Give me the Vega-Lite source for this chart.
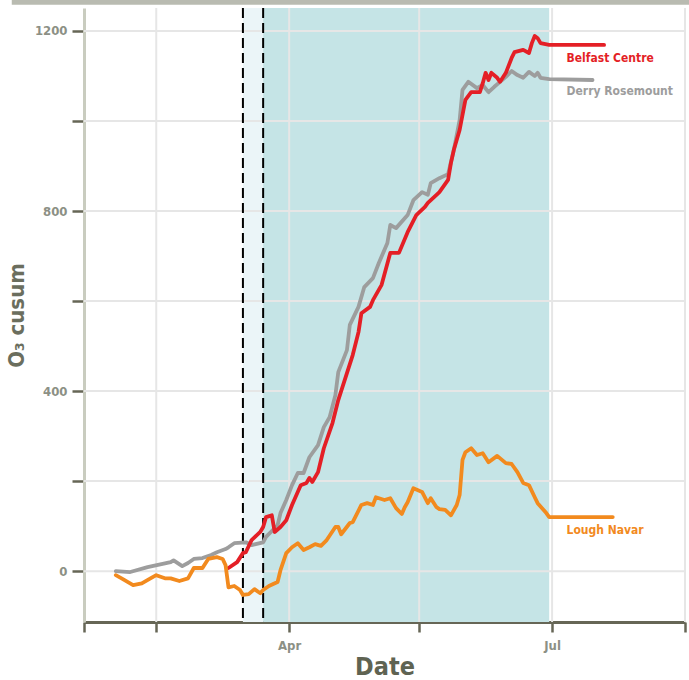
{
  "$schema": "https://vega.github.io/schema/vega-lite/v6.json",
  "autosize": "none",
  "width": 601,
  "height": 614,
  "padding": {"left": 84, "top": 8, "right": 4, "bottom": 58},
  "background": "white",
  "config": {
    "view": {"stroke": null},
    "font": "DejaVu Sans Condensed",
    "axis": {"labelFont": "DejaVu Sans Condensed", "titleFont": "DejaVu Sans Condensed"},
    "text": {"font": "DejaVu Sans Condensed"}
  },
  "datasets": {
    "series": [
      {"site": "Derry Rosemount", "date": "2020-02-01", "cusum": 0},
      {"site": "Derry Rosemount", "date": "2020-02-06", "cusum": -2},
      {"site": "Derry Rosemount", "date": "2020-02-12", "cusum": 9},
      {"site": "Derry Rosemount", "date": "2020-02-20", "cusum": 20},
      {"site": "Derry Rosemount", "date": "2020-02-21", "cusum": 24},
      {"site": "Derry Rosemount", "date": "2020-02-24", "cusum": 11},
      {"site": "Derry Rosemount", "date": "2020-02-26", "cusum": 18},
      {"site": "Derry Rosemount", "date": "2020-02-28", "cusum": 27},
      {"site": "Derry Rosemount", "date": "2020-03-02", "cusum": 29},
      {"site": "Derry Rosemount", "date": "2020-03-05", "cusum": 36},
      {"site": "Derry Rosemount", "date": "2020-03-07", "cusum": 42},
      {"site": "Derry Rosemount", "date": "2020-03-10", "cusum": 49},
      {"site": "Derry Rosemount", "date": "2020-03-11", "cusum": 53},
      {"site": "Derry Rosemount", "date": "2020-03-13", "cusum": 62},
      {"site": "Derry Rosemount", "date": "2020-03-17", "cusum": 64},
      {"site": "Derry Rosemount", "date": "2020-03-19", "cusum": 58},
      {"site": "Derry Rosemount", "date": "2020-03-23", "cusum": 64},
      {"site": "Derry Rosemount", "date": "2020-03-24", "cusum": 76},
      {"site": "Derry Rosemount", "date": "2020-03-28", "cusum": 102},
      {"site": "Derry Rosemount", "date": "2020-03-29", "cusum": 129},
      {"site": "Derry Rosemount", "date": "2020-03-31", "cusum": 158},
      {"site": "Derry Rosemount", "date": "2020-04-02", "cusum": 191},
      {"site": "Derry Rosemount", "date": "2020-04-04", "cusum": 218},
      {"site": "Derry Rosemount", "date": "2020-04-06", "cusum": 218},
      {"site": "Derry Rosemount", "date": "2020-04-08", "cusum": 253},
      {"site": "Derry Rosemount", "date": "2020-04-11", "cusum": 280},
      {"site": "Derry Rosemount", "date": "2020-04-13", "cusum": 320},
      {"site": "Derry Rosemount", "date": "2020-04-15", "cusum": 342},
      {"site": "Derry Rosemount", "date": "2020-04-17", "cusum": 391},
      {"site": "Derry Rosemount", "date": "2020-04-18", "cusum": 442},
      {"site": "Derry Rosemount", "date": "2020-04-21", "cusum": 491},
      {"site": "Derry Rosemount", "date": "2020-04-22", "cusum": 547},
      {"site": "Derry Rosemount", "date": "2020-04-25", "cusum": 587},
      {"site": "Derry Rosemount", "date": "2020-04-27", "cusum": 631},
      {"site": "Derry Rosemount", "date": "2020-04-30", "cusum": 651},
      {"site": "Derry Rosemount", "date": "2020-05-02", "cusum": 684},
      {"site": "Derry Rosemount", "date": "2020-05-05", "cusum": 729},
      {"site": "Derry Rosemount", "date": "2020-05-06", "cusum": 769},
      {"site": "Derry Rosemount", "date": "2020-05-08", "cusum": 762},
      {"site": "Derry Rosemount", "date": "2020-05-12", "cusum": 791},
      {"site": "Derry Rosemount", "date": "2020-05-14", "cusum": 824},
      {"site": "Derry Rosemount", "date": "2020-05-17", "cusum": 842},
      {"site": "Derry Rosemount", "date": "2020-05-19", "cusum": 836},
      {"site": "Derry Rosemount", "date": "2020-05-20", "cusum": 862},
      {"site": "Derry Rosemount", "date": "2020-05-23", "cusum": 873},
      {"site": "Derry Rosemount", "date": "2020-05-26", "cusum": 882},
      {"site": "Derry Rosemount", "date": "2020-05-28", "cusum": 936},
      {"site": "Derry Rosemount", "date": "2020-05-30", "cusum": 1002},
      {"site": "Derry Rosemount", "date": "2020-05-31", "cusum": 1069},
      {"site": "Derry Rosemount", "date": "2020-06-02", "cusum": 1087},
      {"site": "Derry Rosemount", "date": "2020-06-05", "cusum": 1073},
      {"site": "Derry Rosemount", "date": "2020-06-07", "cusum": 1080},
      {"site": "Derry Rosemount", "date": "2020-06-09", "cusum": 1064},
      {"site": "Derry Rosemount", "date": "2020-06-11", "cusum": 1076},
      {"site": "Derry Rosemount", "date": "2020-06-13", "cusum": 1087},
      {"site": "Derry Rosemount", "date": "2020-06-15", "cusum": 1098},
      {"site": "Derry Rosemount", "date": "2020-06-17", "cusum": 1111},
      {"site": "Derry Rosemount", "date": "2020-06-19", "cusum": 1102},
      {"site": "Derry Rosemount", "date": "2020-06-21", "cusum": 1096},
      {"site": "Derry Rosemount", "date": "2020-06-23", "cusum": 1109},
      {"site": "Derry Rosemount", "date": "2020-06-25", "cusum": 1100},
      {"site": "Derry Rosemount", "date": "2020-06-26", "cusum": 1107},
      {"site": "Derry Rosemount", "date": "2020-06-27", "cusum": 1096},
      {"site": "Derry Rosemount", "date": "2020-06-30", "cusum": 1093},
      {"site": "Derry Rosemount", "date": "2020-07-15", "cusum": 1091},
      {"site": "Belfast Centre", "date": "2020-03-11", "cusum": 7},
      {"site": "Belfast Centre", "date": "2020-03-14", "cusum": 20},
      {"site": "Belfast Centre", "date": "2020-03-16", "cusum": 40},
      {"site": "Belfast Centre", "date": "2020-03-17", "cusum": 42},
      {"site": "Belfast Centre", "date": "2020-03-19", "cusum": 69},
      {"site": "Belfast Centre", "date": "2020-03-22", "cusum": 87},
      {"site": "Belfast Centre", "date": "2020-03-23", "cusum": 98},
      {"site": "Belfast Centre", "date": "2020-03-24", "cusum": 120},
      {"site": "Belfast Centre", "date": "2020-03-26", "cusum": 124},
      {"site": "Belfast Centre", "date": "2020-03-27", "cusum": 87},
      {"site": "Belfast Centre", "date": "2020-03-29", "cusum": 98},
      {"site": "Belfast Centre", "date": "2020-03-31", "cusum": 113},
      {"site": "Belfast Centre", "date": "2020-04-02", "cusum": 147},
      {"site": "Belfast Centre", "date": "2020-04-05", "cusum": 191},
      {"site": "Belfast Centre", "date": "2020-04-07", "cusum": 196},
      {"site": "Belfast Centre", "date": "2020-04-08", "cusum": 207},
      {"site": "Belfast Centre", "date": "2020-04-09", "cusum": 198},
      {"site": "Belfast Centre", "date": "2020-04-11", "cusum": 220},
      {"site": "Belfast Centre", "date": "2020-04-13", "cusum": 273},
      {"site": "Belfast Centre", "date": "2020-04-16", "cusum": 329},
      {"site": "Belfast Centre", "date": "2020-04-18", "cusum": 380},
      {"site": "Belfast Centre", "date": "2020-04-21", "cusum": 440},
      {"site": "Belfast Centre", "date": "2020-04-23", "cusum": 480},
      {"site": "Belfast Centre", "date": "2020-04-25", "cusum": 531},
      {"site": "Belfast Centre", "date": "2020-04-26", "cusum": 573},
      {"site": "Belfast Centre", "date": "2020-04-29", "cusum": 587},
      {"site": "Belfast Centre", "date": "2020-04-30", "cusum": 602},
      {"site": "Belfast Centre", "date": "2020-05-03", "cusum": 636},
      {"site": "Belfast Centre", "date": "2020-05-06", "cusum": 707},
      {"site": "Belfast Centre", "date": "2020-05-09", "cusum": 707},
      {"site": "Belfast Centre", "date": "2020-05-12", "cusum": 753},
      {"site": "Belfast Centre", "date": "2020-05-15", "cusum": 791},
      {"site": "Belfast Centre", "date": "2020-05-18", "cusum": 809},
      {"site": "Belfast Centre", "date": "2020-05-19", "cusum": 818},
      {"site": "Belfast Centre", "date": "2020-05-22", "cusum": 836},
      {"site": "Belfast Centre", "date": "2020-05-23", "cusum": 842},
      {"site": "Belfast Centre", "date": "2020-05-26", "cusum": 869},
      {"site": "Belfast Centre", "date": "2020-05-27", "cusum": 907},
      {"site": "Belfast Centre", "date": "2020-05-28", "cusum": 936},
      {"site": "Belfast Centre", "date": "2020-05-30", "cusum": 980},
      {"site": "Belfast Centre", "date": "2020-06-01", "cusum": 1047},
      {"site": "Belfast Centre", "date": "2020-06-03", "cusum": 1064},
      {"site": "Belfast Centre", "date": "2020-06-06", "cusum": 1064},
      {"site": "Belfast Centre", "date": "2020-06-07", "cusum": 1084},
      {"site": "Belfast Centre", "date": "2020-06-08", "cusum": 1107},
      {"site": "Belfast Centre", "date": "2020-06-09", "cusum": 1091},
      {"site": "Belfast Centre", "date": "2020-06-10", "cusum": 1107},
      {"site": "Belfast Centre", "date": "2020-06-12", "cusum": 1096},
      {"site": "Belfast Centre", "date": "2020-06-13", "cusum": 1087},
      {"site": "Belfast Centre", "date": "2020-06-15", "cusum": 1107},
      {"site": "Belfast Centre", "date": "2020-06-17", "cusum": 1140},
      {"site": "Belfast Centre", "date": "2020-06-18", "cusum": 1153},
      {"site": "Belfast Centre", "date": "2020-06-21", "cusum": 1158},
      {"site": "Belfast Centre", "date": "2020-06-23", "cusum": 1151},
      {"site": "Belfast Centre", "date": "2020-06-24", "cusum": 1173},
      {"site": "Belfast Centre", "date": "2020-06-25", "cusum": 1189},
      {"site": "Belfast Centre", "date": "2020-06-26", "cusum": 1184},
      {"site": "Belfast Centre", "date": "2020-06-27", "cusum": 1173},
      {"site": "Belfast Centre", "date": "2020-06-30", "cusum": 1169},
      {"site": "Belfast Centre", "date": "2020-07-19", "cusum": 1169},
      {"site": "Lough Navar", "date": "2020-02-01", "cusum": -9},
      {"site": "Lough Navar", "date": "2020-02-03", "cusum": -16},
      {"site": "Lough Navar", "date": "2020-02-07", "cusum": -31},
      {"site": "Lough Navar", "date": "2020-02-10", "cusum": -27},
      {"site": "Lough Navar", "date": "2020-02-13", "cusum": -16},
      {"site": "Lough Navar", "date": "2020-02-15", "cusum": -9},
      {"site": "Lough Navar", "date": "2020-02-18", "cusum": -16},
      {"site": "Lough Navar", "date": "2020-02-20", "cusum": -16},
      {"site": "Lough Navar", "date": "2020-02-23", "cusum": -22},
      {"site": "Lough Navar", "date": "2020-02-26", "cusum": -16},
      {"site": "Lough Navar", "date": "2020-02-28", "cusum": 7},
      {"site": "Lough Navar", "date": "2020-03-02", "cusum": 7},
      {"site": "Lough Navar", "date": "2020-03-04", "cusum": 27},
      {"site": "Lough Navar", "date": "2020-03-07", "cusum": 31},
      {"site": "Lough Navar", "date": "2020-03-09", "cusum": 27},
      {"site": "Lough Navar", "date": "2020-03-10", "cusum": 13},
      {"site": "Lough Navar", "date": "2020-03-11", "cusum": -36},
      {"site": "Lough Navar", "date": "2020-03-13", "cusum": -33},
      {"site": "Lough Navar", "date": "2020-03-15", "cusum": -42},
      {"site": "Lough Navar", "date": "2020-03-16", "cusum": -53},
      {"site": "Lough Navar", "date": "2020-03-18", "cusum": -51},
      {"site": "Lough Navar", "date": "2020-03-20", "cusum": -40},
      {"site": "Lough Navar", "date": "2020-03-22", "cusum": -49},
      {"site": "Lough Navar", "date": "2020-03-23", "cusum": -42},
      {"site": "Lough Navar", "date": "2020-03-25", "cusum": -33},
      {"site": "Lough Navar", "date": "2020-03-28", "cusum": -24},
      {"site": "Lough Navar", "date": "2020-03-29", "cusum": 2},
      {"site": "Lough Navar", "date": "2020-03-31", "cusum": 40},
      {"site": "Lough Navar", "date": "2020-04-02", "cusum": 53},
      {"site": "Lough Navar", "date": "2020-04-04", "cusum": 62},
      {"site": "Lough Navar", "date": "2020-04-06", "cusum": 47},
      {"site": "Lough Navar", "date": "2020-04-08", "cusum": 53},
      {"site": "Lough Navar", "date": "2020-04-10", "cusum": 60},
      {"site": "Lough Navar", "date": "2020-04-12", "cusum": 56},
      {"site": "Lough Navar", "date": "2020-04-14", "cusum": 69},
      {"site": "Lough Navar", "date": "2020-04-17", "cusum": 98},
      {"site": "Lough Navar", "date": "2020-04-18", "cusum": 98},
      {"site": "Lough Navar", "date": "2020-04-19", "cusum": 82},
      {"site": "Lough Navar", "date": "2020-04-22", "cusum": 107},
      {"site": "Lough Navar", "date": "2020-04-23", "cusum": 109},
      {"site": "Lough Navar", "date": "2020-04-26", "cusum": 147},
      {"site": "Lough Navar", "date": "2020-04-28", "cusum": 151},
      {"site": "Lough Navar", "date": "2020-04-30", "cusum": 147},
      {"site": "Lough Navar", "date": "2020-05-01", "cusum": 164},
      {"site": "Lough Navar", "date": "2020-05-04", "cusum": 158},
      {"site": "Lough Navar", "date": "2020-05-06", "cusum": 162},
      {"site": "Lough Navar", "date": "2020-05-08", "cusum": 140},
      {"site": "Lough Navar", "date": "2020-05-10", "cusum": 127},
      {"site": "Lough Navar", "date": "2020-05-11", "cusum": 142},
      {"site": "Lough Navar", "date": "2020-05-12", "cusum": 153},
      {"site": "Lough Navar", "date": "2020-05-14", "cusum": 184},
      {"site": "Lough Navar", "date": "2020-05-17", "cusum": 176},
      {"site": "Lough Navar", "date": "2020-05-19", "cusum": 151},
      {"site": "Lough Navar", "date": "2020-05-20", "cusum": 162},
      {"site": "Lough Navar", "date": "2020-05-22", "cusum": 142},
      {"site": "Lough Navar", "date": "2020-05-23", "cusum": 138},
      {"site": "Lough Navar", "date": "2020-05-25", "cusum": 136},
      {"site": "Lough Navar", "date": "2020-05-27", "cusum": 124},
      {"site": "Lough Navar", "date": "2020-05-29", "cusum": 147},
      {"site": "Lough Navar", "date": "2020-05-30", "cusum": 169},
      {"site": "Lough Navar", "date": "2020-05-31", "cusum": 247},
      {"site": "Lough Navar", "date": "2020-06-01", "cusum": 264},
      {"site": "Lough Navar", "date": "2020-06-03", "cusum": 273},
      {"site": "Lough Navar", "date": "2020-06-05", "cusum": 258},
      {"site": "Lough Navar", "date": "2020-06-07", "cusum": 262},
      {"site": "Lough Navar", "date": "2020-06-09", "cusum": 242},
      {"site": "Lough Navar", "date": "2020-06-12", "cusum": 256},
      {"site": "Lough Navar", "date": "2020-06-15", "cusum": 240},
      {"site": "Lough Navar", "date": "2020-06-17", "cusum": 238},
      {"site": "Lough Navar", "date": "2020-06-19", "cusum": 220},
      {"site": "Lough Navar", "date": "2020-06-21", "cusum": 196},
      {"site": "Lough Navar", "date": "2020-06-23", "cusum": 191},
      {"site": "Lough Navar", "date": "2020-06-25", "cusum": 164},
      {"site": "Lough Navar", "date": "2020-06-26", "cusum": 151},
      {"site": "Lough Navar", "date": "2020-06-29", "cusum": 129},
      {"site": "Lough Navar", "date": "2020-06-30", "cusum": 120},
      {"site": "Lough Navar", "date": "2020-07-22", "cusum": 120}
    ],
    "periods": [
      {"period": "pre", "start": "2020-03-16", "end": "2020-03-23"},
      {"period": "lockdown", "start": "2020-03-23", "end": "2020-06-30"}
    ],
    "events": [
      {"date": "2020-03-16"},
      {"date": "2020-03-23"}
    ],
    "gridx": [
      {"date": "2020-02-15"},
      {"date": "2020-04-01"},
      {"date": "2020-05-16"},
      {"date": "2020-07-01"},
      {"date": "2020-08-16"}
    ],
    "gridy": [
      {"cusum": 0}, {"cusum": 200}, {"cusum": 400}, {"cusum": 600},
      {"cusum": 800}, {"cusum": 1000}, {"cusum": 1200}
    ],
    "labels": [
      {"site": "Belfast Centre", "date": "2020-07-06", "cusum": 1140},
      {"site": "Derry Rosemount", "date": "2020-07-06", "cusum": 1067},
      {"site": "Lough Navar", "date": "2020-07-06", "cusum": 91}
    ]
  },
  "layer": [
    {
      "data": {"values": [{}]},
      "mark": {"type": "rect", "clip": false, "color": "#b9bbb1"},
      "encoding": {
        "x": {"datum": {"year": 2019, "month": 12, "date": 27, "utc": true}, "type": "temporal",
              "scale": {"type": "utc", "domain": [{"year": 2020, "month": 1, "date": 21, "utc": true}, {"year": 2020, "month": 8, "date": 16, "utc": true}]}},
        "x2": {"datum": {"year": 2020, "month": 8, "date": 20, "utc": true}},
        "y": {"datum": 1258, "type": "quantitative"},
        "y2": {"datum": 1290}
      }
    },
    {
      "data": {"name": "periods"},
      "mark": {"type": "rect"},
      "encoding": {
        "x": {"field": "start", "type": "temporal"},
        "x2": {"field": "end"},
        "fill": {"field": "period", "type": "nominal", "scale": {"domain": ["pre", "lockdown"], "range": ["#ebf5f8", "#c5e4e6"]}, "legend": null}
      }
    },
    {
      "data": {"name": "gridx"},
      "mark": {"type": "rule", "color": "#e6e6e6", "strokeWidth": 2},
      "encoding": {"x": {"field": "date", "type": "temporal"}}
    },
    {
      "data": {"name": "gridy"},
      "mark": {"type": "rule", "color": "#e6e6e6", "strokeWidth": 2},
      "encoding": {"y": {"field": "cusum", "type": "quantitative"}}
    },
    {
      "data": {"name": "events"},
      "mark": {"type": "rule", "color": "#000000", "strokeWidth": 2, "strokeDash": [10, 5]},
      "encoding": {"x": {"field": "date", "type": "temporal"}}
    },
    {
      "data": {"name": "series"},
      "mark": {"type": "line", "strokeWidth": 3.8, "strokeJoin": "round", "strokeCap": "round"},
      "encoding": {
        "x": {
          "field": "date", "type": "temporal",
          "axis": {
            "values": [
              {"year": 2020, "month": 1, "date": 21, "utc": true},
              {"year": 2020, "month": 2, "date": 15, "utc": true},
              {"year": 2020, "month": 4, "date": 1, "utc": true},
              {"year": 2020, "month": 5, "date": 16, "utc": true},
              {"year": 2020, "month": 7, "date": 1, "utc": true},
              {"year": 2020, "month": 8, "date": 16, "utc": true}
            ],
            "labelExpr": "utcmonth(datum.value) == 3 || utcmonth(datum.value) == 6 ? utcFormat(datum.value, '%b') : ''",
            "grid": false,
            "domainColor": "#666656", "domainWidth": 3,
            "tickColor": "#666656", "tickWidth": 2.5, "tickSize": 10,
            "labelColor": "#8c9085", "labelFontSize": 13, "labelPadding": 7, "labelFontWeight": "bold",
            "title": "Date", "titleFontSize": 25, "titleColor": "#5f6352", "titleFontWeight": "bold", "titlePadding": 2
          }
        },
        "y": {
          "field": "cusum", "type": "quantitative",
          "scale": {"domain": [-113, 1251], "nice": false, "zero": false},
          "axis": {
            "values": [0, 200, 400, 600, 800, 1000, 1200],
            "labelExpr": "datum.value % 400 == 0 ? format(datum.value, 'd') : ''",
            "grid": false,
            "domainColor": "#c9ccbf", "domainWidth": 3,
            "tickColor": "#666656", "tickWidth": 2.5, "tickSize": 12,
            "labelColor": "#8c9085", "labelFontSize": 13, "labelPadding": 5, "labelFontWeight": "bold",
            "title": "O₃ cusum", "titleFontSize": 22, "titleColor": "#6b6e5e", "titleFontWeight": "bold", "titlePadding": 6
          }
        },
        "color": {
          "field": "site", "type": "nominal",
          "scale": {"domain": ["Belfast Centre", "Derry Rosemount", "Lough Navar"], "range": ["#e41f26", "#9d9d9d", "#f28a1e"]},
          "legend": null
        }
      }
    },
    {
      "data": {"name": "labels"},
      "mark": {"type": "text", "align": "left", "baseline": "middle", "fontSize": 12, "fontWeight": "bold"},
      "encoding": {
        "x": {"field": "date", "type": "temporal"},
        "y": {"field": "cusum", "type": "quantitative"},
        "text": {"field": "site"},
        "color": {"field": "site", "type": "nominal", "legend": null}
      }
    }
  ]
}
